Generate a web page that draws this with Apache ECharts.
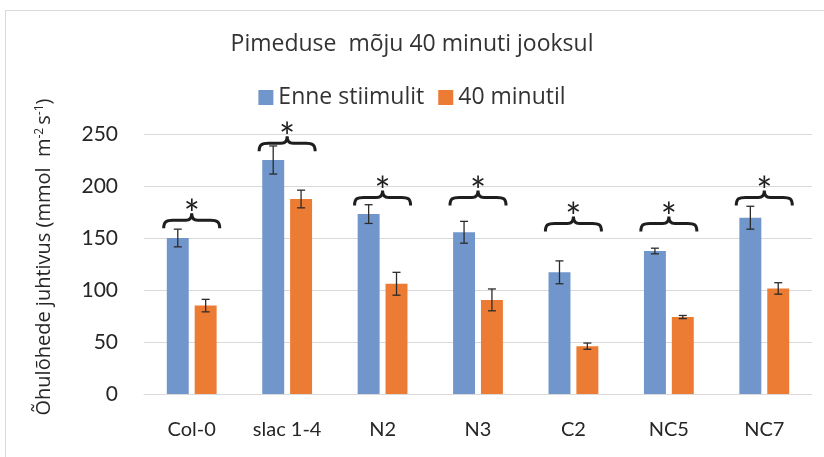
<!DOCTYPE html>
<html>
<head>
<meta charset="utf-8">
<script src="https://cdn.jsdelivr.net/npm/echarts@6/dist/echarts.min.js"></script>
<style>
html,body{margin:0;padding:0;background:#ffffff;}
#chart{width:824px;height:457px;}
</style>
</head>
<body>
<div id="chart"></div>
<script>
// ---- data ----
var categories = ['Col-0', 'slac 1-4', 'N2', 'N3', 'C2', 'NC5', 'NC7'];
var seriesNames = ['Enne stiimulit', '40 minutil'];
var before = [150, 225, 173, 155.5, 117, 137.5, 169.5];
var beforeErr = [8.5, 13.5, 9, 10.5, 11, 2.7, 11];
var after = [85, 187.5, 106, 90.5, 46, 74, 101.5];
var afterErr = [6, 8.5, 11, 10.5, 3, 1.5, 5.5];
var braceLevel = [167, 241, 189, 189, 164, 164, 189];
var yTicks = [0, 50, 100, 150, 200, 250];

var FONT = 'Lato';
var WFONT = 'Open Sans';
var BLUE = '#7196cb';
var ORANGE = '#ec7c34';
var BAR_W = 0.23;   // fraction of category band
var BAR_GAP = 0.27; // fraction of bar width

function errData(vals, errs) {
  return vals.map(function (v, i) { return [i, v, errs[i]]; });
}

function errRender(side) {
  return function (params, api) {
    var band = api.size([1, 0])[0];
    var bw = band * BAR_W;
    var off = side * (bw + bw * BAR_GAP) / 2;
    var i = api.value(0), v = api.value(1), e = api.value(2);
    var hi = api.coord([i, v + e]);
    var lo = api.coord([i, v - e]);
    var x = hi[0] + off;
    var cw = 4;
    var st = { stroke: '#2b2b2b', lineWidth: 1.3 };
    return {
      type: 'group',
      children: [
        { type: 'line', shape: { x1: x, y1: hi[1], x2: x, y2: lo[1] }, style: st },
        { type: 'line', shape: { x1: x - cw, y1: hi[1], x2: x + cw, y2: hi[1] }, style: st },
        { type: 'line', shape: { x1: x - cw, y1: lo[1], x2: x + cw, y2: lo[1] }, style: st }
      ]
    };
  };
}

function braceRender(params, api) {
  var i = api.value(0), v = api.value(1);
  var p = api.coord([i, v]);
  var band = api.size([1, 0])[0];
  var W = band * 0.6, H = 15;
  var path = 'M0,15 C0,8 3,7 9,7 L22,7 C26,7 28,5 28,0 C28,5 30,7 34,7 L47,7 C53,7 56,8 56,15';
  return {
    type: 'group',
    children: [
      {
        type: 'path',
        shape: { pathData: path, x: p[0] - W / 2, y: p[1] - 7, width: W, height: H },
        style: { stroke: '#1e1e1e', lineWidth: 3, fill: null }
      },
      {
        type: 'text',
        style: {
          text: '*', x: p[0], y: p[1] - 5, fill: '#1e1e1e',
          font: '38px ' + FONT, textAlign: 'center', textVerticalAlign: 'middle'
        }
      }
    ]
  };
}

var chart = echarts.init(document.getElementById('chart'), null, { renderer: 'canvas' });
chart.setOption({
  backgroundColor: '#ffffff',
  animation: false,
  textStyle: { fontFamily: FONT },
  title: {
    text: 'Pimeduse  mõju 40 minuti jooksul',
    left: 'center', top: 28,
    textStyle: { fontFamily: WFONT, fontSize: 23, fontWeight: 'normal', color: '#333333' }
  },
  legend: {
    data: seriesNames,
    top: 81, left: 'center',
    icon: 'rect', itemWidth: 15, itemHeight: 15, itemGap: 14,
    textStyle: { fontFamily: WFONT, fontSize: 23, color: '#333333' }
  },
  grid: { left: 144, right: 12, top: 134, bottom: 63, containLabel: false },
  xAxis: {
    type: 'category',
    data: categories,
    axisLine: { lineStyle: { color: '#d9d9d9', width: 1 } },
    axisTick: { show: false },
    axisLabel: { fontFamily: FONT, fontSize: 20, color: '#262626', margin: 26 }
  },
  yAxis: {
    type: 'value',
    min: yTicks[0], max: yTicks[yTicks.length - 1], interval: yTicks[1] - yTicks[0],
    axisLine: { show: false },
    axisTick: { show: false },
    splitLine: { lineStyle: { color: '#d9d9d9', width: 1 } },
    axisLabel: { fontFamily: FONT, fontSize: 21, color: '#262626', margin: 26 },
    name: '{n|Õhulõhede juhtivus (mmol  m}{s|-2 }{n|s}{s|-1}{n|)}',
    nameLocation: 'middle',
    nameGap: 90,
    nameTextStyle: {
      padding: [0, 0, 0, 14],
      rich: {
        n: { fontFamily: WFONT, fontSize: 20, color: '#262626' },
        s: { fontFamily: WFONT, fontSize: 12, color: '#262626', verticalAlign: 'top', padding: [0, 0, 8, 0] }
      }
    }
  },
  series: [
    { name: seriesNames[0], type: 'bar', data: before, barWidth: (BAR_W * 100) + '%', barGap: (BAR_GAP * 100) + '%', itemStyle: { color: BLUE } },
    { name: seriesNames[1], type: 'bar', data: after, barWidth: (BAR_W * 100) + '%', barGap: (BAR_GAP * 100) + '%', itemStyle: { color: ORANGE } },
    { type: 'custom', renderItem: errRender(-1), data: errData(before, beforeErr), encode: { x: 0, y: 1 }, z: 10, silent: true },
    { type: 'custom', renderItem: errRender(1), data: errData(after, afterErr), encode: { x: 0, y: 1 }, z: 10, silent: true },
    { type: 'custom', renderItem: braceRender, data: braceLevel.map(function (v, i) { return [i, v]; }), encode: { x: 0, y: 1 }, z: 10, silent: true, clip: false }
  ],
  graphic: [
    { type: 'rect', shape: { x: 5.5, y: 10.5, width: 840, height: 470 }, style: { fill: null, stroke: '#d9d9d9', lineWidth: 1 }, silent: true }
  ]
});
</script>
</body>
</html>
